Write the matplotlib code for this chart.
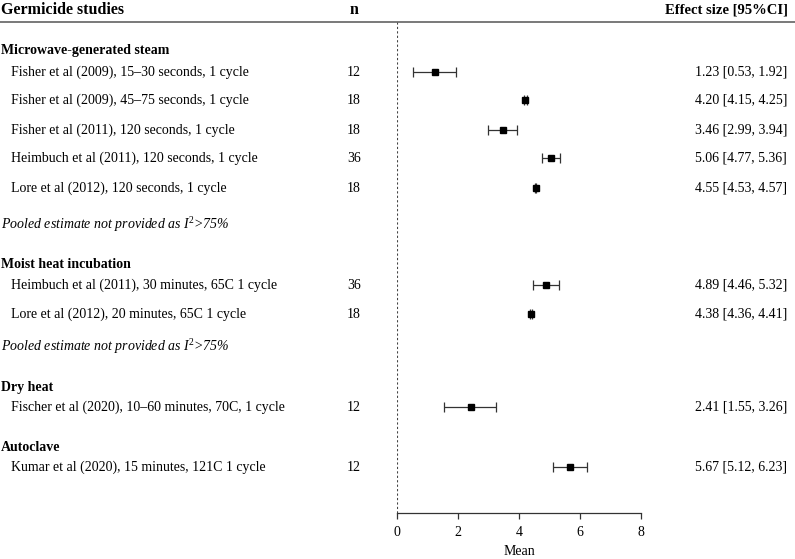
import matplotlib
matplotlib.use("Agg")
import matplotlib.pyplot as plt
from matplotlib.transforms import blended_transform_factory

plt.rcParams['font.family'] = ['Liberation Serif', 'DejaVu Serif']
plt.rcParams['mathtext.fontset'] = 'custom'
plt.rcParams['mathtext.rm'] = 'Liberation Serif'
plt.rcParams['mathtext.it'] = 'Liberation Serif:italic'

# data
groups = ['Microwave-generated steam', 'Moist heat incubation', 'Dry heat', 'Autoclave']
studies = [
    'Fisher et al (2009), 15\u201330 seconds, 1 cycle',
    'Fisher et al (2009), 45\u201375 seconds, 1 cycle',
    'Fisher et al (2011), 120 seconds, 1 cycle',
    'Heimbuch et al (2011), 120 seconds, 1 cycle',
    'Lore et al (2012), 120 seconds, 1 cycle',
    'Heimbuch et al (2011), 30 minutes, 65C 1 cycle',
    'Lore et al (2012), 20 minutes, 65C 1 cycle',
    'Fischer et al (2020), 10\u201360 minutes, 70C, 1 cycle',
    'Kumar et al (2020), 15 minutes, 121C 1 cycle',
]
n = [12, 18, 18, 36, 18, 36, 18, 12, 12]
mean = [1.23, 4.20, 3.46, 5.06, 4.55, 4.89, 4.38, 2.41, 5.67]
lo = [0.53, 4.15, 2.99, 4.77, 4.53, 4.46, 4.36, 1.55, 5.12]
hi = [1.92, 4.25, 3.94, 5.36, 4.57, 5.32, 4.41, 3.26, 6.23]
note = 'Pooled estimate not provided as I$^{\\mathit{2}}$>75%'

# layout (vertical positions in pixel rows from top)
group_y = [50, 264, 387, 447]
study_y = [72, 100, 130, 158, 188, 285, 314, 407, 467]
note_y = [225, 347]

W, H = 795, 559
fig = plt.figure(figsize=(W / 100, H / 100), dpi=100)
ax = fig.add_axes([397 / W, 1 - 513 / H, (641 - 397) / W, (513 - 22) / H])
ax.set_xlim(0, 8)
ax.set_ylim(513, 22)

tr = blended_transform_factory(fig.transFigure, ax.transData)
fs = 10

# header
fig.text(1 / W, 1 - 10 / H, 'Germicide studies', fontsize=11.5, fontweight='bold', va='center')
fig.text(354 / W, 1 - 10 / H, 'n', fontsize=11.5, fontweight='bold', va='center', ha='center')
fig.text(788 / W, 1 - 10 / H, 'Effect size [95%CI]', fontsize=10.5, fontweight='bold', va='center', ha='right')
fig.add_artist(plt.Line2D([0, 1], [1 - 22 / H, 1 - 22 / H], color='#555555', lw=1.1, transform=fig.transFigure))

for g, y in zip(groups, group_y):
    ax.text(1 / W, y, g, transform=tr, fontsize=fs, fontweight='bold', va='center')

for y in note_y:
    ax.text(1 / W, y, note, transform=tr, fontsize=fs, style='italic', va='center')

for i in range(len(studies)):
    y = study_y[i]
    ax.text(11 / W, y, studies[i], transform=tr, fontsize=fs, va='center')
    ax.text(354 / W, y, str(n[i]), transform=tr, fontsize=fs, va='center', ha='center')
    ax.text(787 / W, y, '%.2f [%.2f, %.2f]' % (mean[i], lo[i], hi[i]), transform=tr,
            fontsize=fs, va='center', ha='right')
    ax.errorbar(mean[i], y, xerr=[[mean[i] - lo[i]], [hi[i] - mean[i]]], fmt='s',
                color='black', ms=4, ecolor='#333333', elinewidth=0.9, capsize=3.5,
                capthick=0.9, clip_on=False)

ax.axvline(0, color='#444444', lw=0.8, ls=(0, (2, 2)))

for s in ['left', 'right', 'top']:
    ax.spines[s].set_visible(False)
ax.spines['bottom'].set_color('#333333')
ax.spines['bottom'].set_linewidth(0.9)
ax.set_yticks([])
ax.set_xticks([0, 2, 4, 6, 8])
ax.tick_params(axis='x', length=4, width=0.9, color='#333333', labelsize=fs, pad=5)
ax.set_xlabel('Mean', fontsize=fs, labelpad=5)

fig.savefig('out.png', dpi=100)
